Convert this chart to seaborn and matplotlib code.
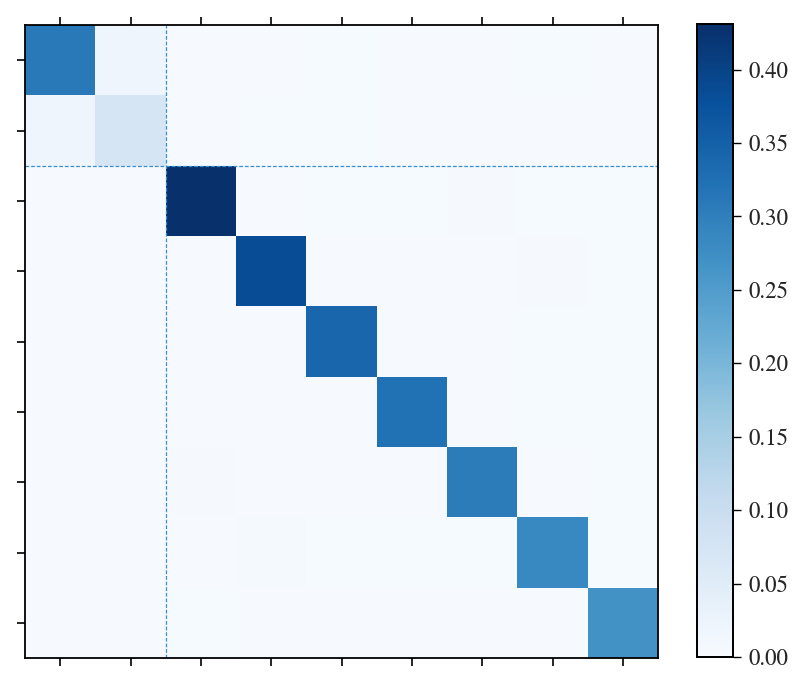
import numpy as np
import pandas as pd
import matplotlib
matplotlib.use("Agg")
import matplotlib.pyplot as plt
import seaborn as sns

# Values (row by row)
row0 = [0.310, 0.020, 0.003, 0.003, 0.004, 0.003, 0.003, 0.004, 0.003]
row1 = [0.020, 0.073, 0.003, 0.004, 0.004, 0.003, 0.003, 0.003, 0.003]
row2 = [0.002, 0.002, 0.431, 0.003, 0.004, 0.004, 0.006, 0.004, 0.005]
row3 = [0.002, 0.003, 0.002, 0.384, 0.003, 0.003, 0.003, 0.006, 0.004]
row4 = [0.002, 0.002, 0.002, 0.003, 0.341, 0.003, 0.003, 0.004, 0.004]
row5 = [0.002, 0.002, 0.002, 0.003, 0.003, 0.323, 0.003, 0.005, 0.004]
row6 = [0.002, 0.003, 0.006, 0.003, 0.003, 0.003, 0.306, 0.003, 0.004]
row7 = [0.002, 0.003, 0.002, 0.007, 0.004, 0.004, 0.004, 0.285, 0.004]
row8 = [0.002, 0.003, 0.005, 0.002, 0.002, 0.002, 0.002, 0.002, 0.269]
rows = [row0, row1, row2, row3, row4, row5, row6, row7, row8]
labels = [str(i) for i in range(9)]
cbar_ticks = [0.00, 0.05, 0.10, 0.15, 0.20, 0.25, 0.30, 0.35, 0.40]

df = pd.DataFrame(rows, index=labels, columns=labels)

sns.set_style("white")
plt.rcParams['font.family'] = ['STIXGeneral', 'Liberation Serif', 'DejaVu Serif']
plt.rcParams['font.size'] = 16

fig = plt.figure(figsize=(8.09, 6.87), dpi=100)
W, H = 809, 687
ax = fig.add_axes([25 / W, 1 - 658 / H, (658 - 25) / W, (658 - 25) / H])
cax = fig.add_axes([697 / W, 1 - 657 / H, (733 - 697) / W, (657 - 24) / H])

sns.heatmap(df, ax=ax, cmap="Blues", vmin=0, vmax=max(max(r) for r in rows),
            cbar_ax=cax, cbar_kws={"ticks": cbar_ticks}, square=False)

ax.axvline(2, color="#3a8fd0", linestyle="--", linewidth=0.9, dashes=(3, 1.5))
ax.axhline(2, color="#3a8fd0", linestyle="--", linewidth=0.9, dashes=(3, 1.5))

ax.set_xticks(np.arange(9) + 0.5)
ax.set_yticks(np.arange(9) + 0.5)
ax.set_xticklabels([])
ax.set_yticklabels([])
ax.set_xlabel("")
ax.set_ylabel("")
ax.tick_params(axis="x", which="both", top=True, bottom=True, direction="out",
               length=6, width=1.2, color="black")
ax.tick_params(axis="y", which="both", left=True, right=False, direction="out",
               length=6, width=1.2, color="black")
for s in ax.spines.values():
    s.set_visible(True)
    s.set_linewidth(1.3)
    s.set_color("black")

cax.tick_params(axis="y", direction="out", length=6, width=1.0, labelsize=16.5,
                color="black", right=True, pad=5)
cax.set_yticklabels([f"{t:.2f}" for t in cbar_ticks])
for s in cax.spines.values():
    s.set_visible(True)
    s.set_linewidth(1.3)
    s.set_color("black")

fig.savefig("out.png", dpi=100)
